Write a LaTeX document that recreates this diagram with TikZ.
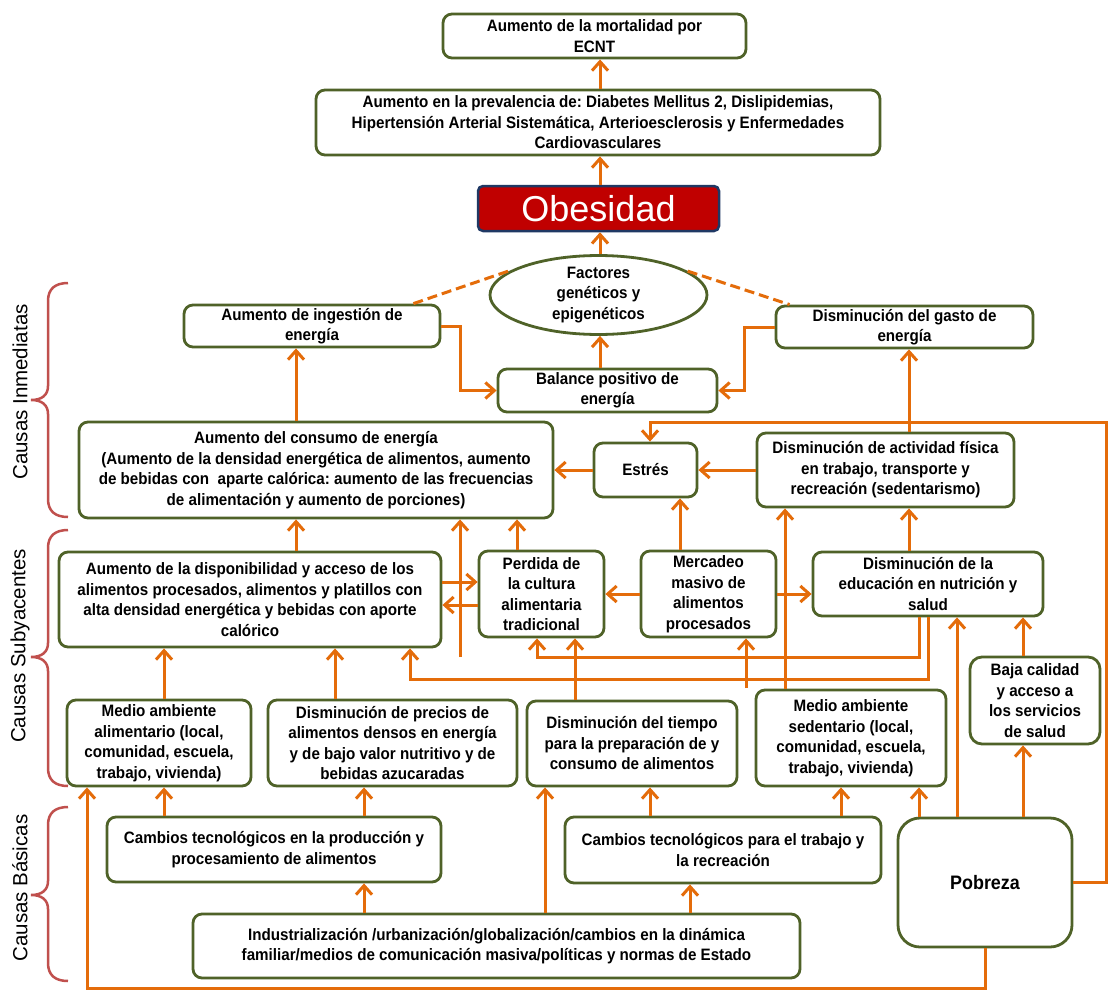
\documentclass[tikz,border=0pt]{standalone}
\usepackage{fontspec}
\setmainfont{Liberation Sans}
\newfontfamily\boxfont{Liberation Sans}[FakeStretch=0.92]
\usetikzlibrary{arrows.meta,shapes.geometric,calc}
\definecolor{bord}{HTML}{4F6228}
\definecolor{orng}{HTML}{E46C0A}
\definecolor{bracec}{HTML}{C0504D}
\definecolor{obfill}{HTML}{C00000}
\definecolor{obdraw}{HTML}{1F3864}
\frenchspacing
\newcommand\mybrace[3]{%
  \draw[bracec,line width=2.5pt] (68,#1) .. controls (55,#1) and (48,{#1+6}) .. (48,{#1+18})
    -- (48,{#2-14}) .. controls (48,{#2-5}) and (42,#2) .. (31,#2)
    .. controls (42,#2) and (48,{#2+5}) .. (48,{#2+14})
    -- (48,{#3-18}) .. controls (48,{#3-6}) and (55,#3) .. (68,#3);}
\begin{document}
\begin{tikzpicture}[x=1pt,y=-1pt,
  bx/.style={draw=bord,line width=2.8pt,rounded corners=9pt,fill=white,align=center,inner sep=0pt,
    font=\boxfont\bfseries\fontsize{16.5}{20.5}\selectfont},
  ell/.style={draw=bord,line width=2.8pt,ellipse,fill=white,align=center,inner sep=0pt,
    minimum width=217pt,minimum height=66pt,font=\boxfont\bfseries\fontsize{16.5}{20.5}\selectfont},
  obst/.style={draw=obdraw,fill=obfill,line width=2.5pt,rounded corners=5pt,inner sep=0pt,
    text=white,font=\fontsize{36}{40}\selectfont},
  arr/.style={draw=orng,line width=3pt,-{Straight Barb[length=9pt,width=16pt]}},
  ln/.style={draw=orng,line width=3pt},
  dsh/.style={draw=orng,line width=3pt,dash pattern=on 10pt off 5pt},
  lab/.style={rotate=90,font=\fontsize{20.5}{24}\selectfont}]
\useasboundingbox (0,0) rectangle (1108,990);
\fill[white] (0,0) rectangle (1108,990);

% column / row helpers
\foreach \n/\v in {c600/600,c296/296,c909/909,c650/650,c460/460,c517/517,c680/680,c785/785,
  c919/919,c928/928,c537/537,c410/410,c164/164,c335/335,c575/575,c746/746,c957/957,
  c1023/1023,c87/87,c364/364,c545/545,c841/841,c690/690,c1106/1106}
  {\coordinate (\n) at (\v,0);}
\foreach \n/\v in {r422/422,r582/582,r605/605,r657/657,r679/679,r988/988}
  {\coordinate (\n) at (0,\v);}

% nodes
\node[bx,minimum width=303pt,minimum height=44pt] (mort) at (594.5,36) {Aumento de la mortalidad por\\ECNT};
\node[bx,minimum width=564pt,minimum height=65pt] (prev) at (598,122.5) {Aumento en la prevalencia de: Diabetes Mellitus 2, Dislipidemias,\\Hipertensión Arterial Sistemática, Arterioesclerosis y Enfermedades\\Cardiovasculares};
\node[obst,minimum width=241pt,minimum height=45pt] (obes) at (598.5,208.5) {Obesidad};
\node[ell] (fact) at (598.5,295) {Factores\\genéticos y\\epigenéticos};
\node[bx,minimum width=256pt,minimum height=42pt] (ing) at (312,326) {Aumento de ingestión de\\energía};
\node[bx,minimum width=257pt,minimum height=42pt] (gasto) at (904.5,327) {Disminución del gasto de\\energía};
\node[bx,minimum width=219pt,minimum height=43pt] (bal) at (607.5,390.5) {Balance positivo de\\energía};
\node[bx,minimum width=474pt,minimum height=96pt] (cons) at (316,470) {Aumento del consumo de energía\\(Aumento de la densidad energética de alimentos, aumento\\de bebidas con\ \ aparte calórica: aumento de las frecuencias\\de alimentación y aumento de porciones)};
\node[bx,minimum width=103pt,minimum height=54pt] (estres) at (645.5,470) {Estrés};
\node[bx,minimum width=257pt,minimum height=74pt] (activ) at (885.5,470) {Disminución de actividad física\\en trabajo, transporte y\\recreación (sedentarismo)};
\node[bx,minimum width=382pt,minimum height=95pt] (disp) at (250,599.5) {Aumento de la disponibilidad y acceso de los\\alimentos procesados, alimentos y platillos con\\alta densidad energética y bebidas con aporte\\calórico};
\node[bx,minimum width=125pt,minimum height=86pt] (perd) at (541.5,594) {Perdida de\\la cultura\\alimentaria\\tradicional};
\node[bx,minimum width=135pt,minimum height=86pt] (merc) at (708.5,594) {Mercadeo\\masivo de\\alimentos\\procesados};
\node[bx,minimum width=230pt,minimum height=64pt] (educ) at (928,584) {Disminución de la\\educación en nutrición y\\salud};
\node[bx,minimum width=184pt,minimum height=86pt] (alim) at (159,743) {Medio ambiente\\alimentario (local,\\comunidad, escuela,\\trabajo, vivienda)};
\node[bx,minimum width=249pt,minimum height=86pt] (prec) at (392.5,743) {Disminución de precios de\\alimentos densos en energía\\y de bajo valor nutritivo y de\\bebidas azucaradas};
\node[bx,minimum width=210pt,minimum height=85pt] (tiempo) at (632,743.5) {Disminución del tiempo\\para la preparación de y\\consumo de alimentos};
\node[bx,minimum width=190pt,minimum height=96pt] (sed) at (851,738) {Medio ambiente\\sedentario (local,\\comunidad, escuela,\\trabajo, vivienda)};
\node[bx,rounded corners=12pt,minimum width=130pt,minimum height=87pt] (baja) at (1035,700.5) {Baja calidad\\y acceso a\\los servicios\\de salud};
\node[bx,minimum width=334pt,minimum height=65pt] (cprod) at (274,849.5) {Cambios tecnológicos en la producción y\\procesamiento de alimentos};
\node[bx,minimum width=316pt,minimum height=66pt] (ctrab) at (723,850) {Cambios tecnológicos para el trabajo y\\la recreación};
\node[bx,rounded corners=22pt,minimum width=174pt,minimum height=129pt,font=\boxfont\bfseries\fontsize{19.5}{22}\selectfont] (pobr) at (985,882.5) {Pobreza};
\node[bx,minimum width=607pt,minimum height=64pt] (indus) at (496.5,946) {Industrialización /urbanización/globalización/cambios en la dinámica\\familiar/medios de comunicación masiva/políticas y normas de Estado};

% braces and labels
\mybrace{283}{400}{517}
\mybrace{530}{657}{786}
\mybrace{807}{895}{981}
\node[lab] (l1) at (20,392) {Causas Inmediatas};
\node[lab] (l2) at (20,646) {Causas Subyacentes};
\node[lab] (l3) at (20,888) {Causas Básicas};

% dashed links
\draw[dsh] ($(ing.north east)+(-28,0)$) -- (fact.164);
\draw[dsh] (fact.15) -- ($(gasto.north west)+(15,0)$);

% top chain
\draw[arr] (prev.north -| c600) -- (c600 |- mort.south);
\draw[arr] (obes.north -| c600) -- (c600 |- prev.south);
\draw[arr] (fact.north -| c600) -- (c600 |- obes.south);
\draw[arr] (bal.north -| c600) -- (c600 |- fact.south);
\draw[arr] (ing.east) -- ++(19,0) |- (bal.west);
\draw[arr] (gasto.west) -- ++(-30,0) |- (bal.east);
\draw[arr] (cons.north -| c296) -- (c296 |- ing.south);
\draw[arr] (activ.north -| c909) -- (c909 |- gasto.south);

% Estres
\draw[arr] (pobr.east) -- (pobr.east -| c1106) |- (r422 -| c650) -- (c650 |- estres.north);
\draw[arr] (estres.west) -- (estres.west -| cons.east);
\draw[arr] (activ.west) -- (activ.west -| estres.east);

% into consumo
\draw[arr] (disp.north -| c296) -- (c296 |- cons.south);
\coordinate (f460) at (460,657);
\draw[arr] (f460) -- (f460 |- cons.south);
\draw[arr] (perd.north -| c517) -- (c517 |- cons.south);

% middle row
\draw[arr] (disp.east |- r582) -- (perd.west |- r582);
\draw[arr] (perd.west |- r605) -- (disp.east |- r605);
\draw[arr] (merc.west) -- (merc.west -| perd.east);
\draw[arr] (merc.east) -- (merc.east -| educ.west);
\draw[arr] (merc.north -| c680) -- (c680 |- estres.south);
\draw[arr] (educ.north -| c909) -- (c909 |- activ.south);
\draw[arr] (sed.north -| c785) -- (c785 |- activ.south);
\draw[arr] (educ.south -| c919) |- (r657 -| c537) -- (c537 |- perd.south);
\draw[arr] (educ.south -| c928) |- (r679 -| c410) -- (c410 |- disp.south);

% lower row into middle
\draw[arr] (alim.north -| c164) -- (c164 |- disp.south);
\draw[arr] (prec.north -| c335) -- (c335 |- disp.south);
\draw[arr] (tiempo.north -| c575) -- (c575 |- perd.south);
\coordinate (f746) at (746,688);
\draw[arr] (f746) -- (f746 |- merc.south);
\draw[arr] (pobr.north -| c957) -- (c957 |- educ.south);
\draw[arr] (baja.north -| c1023) -- (c1023 |- educ.south);
\draw[arr] (pobr.north -| c1023) -- (c1023 |- baja.south);
\draw[arr] (pobr.north -| c919) -- (c919 |- sed.south);

% basic causes
\draw[arr] (pobr.south) |- (r988 -| c87) -- (c87 |- alim.south);
\draw[arr] (cprod.north -| c164) -- (c164 |- alim.south);
\draw[arr] (cprod.north -| c364) -- (c364 |- prec.south);
\draw[arr] (indus.north -| c364) -- (c364 |- cprod.south);
\draw[arr] (indus.north -| c545) -- (c545 |- tiempo.south);
\draw[arr] (ctrab.north -| c650) -- (c650 |- tiempo.south);
\draw[arr] (ctrab.north -| c841) -- (c841 |- sed.south);
\draw[arr] (indus.north -| c690) -- (c690 |- ctrab.south);
\end{tikzpicture}
\end{document}
